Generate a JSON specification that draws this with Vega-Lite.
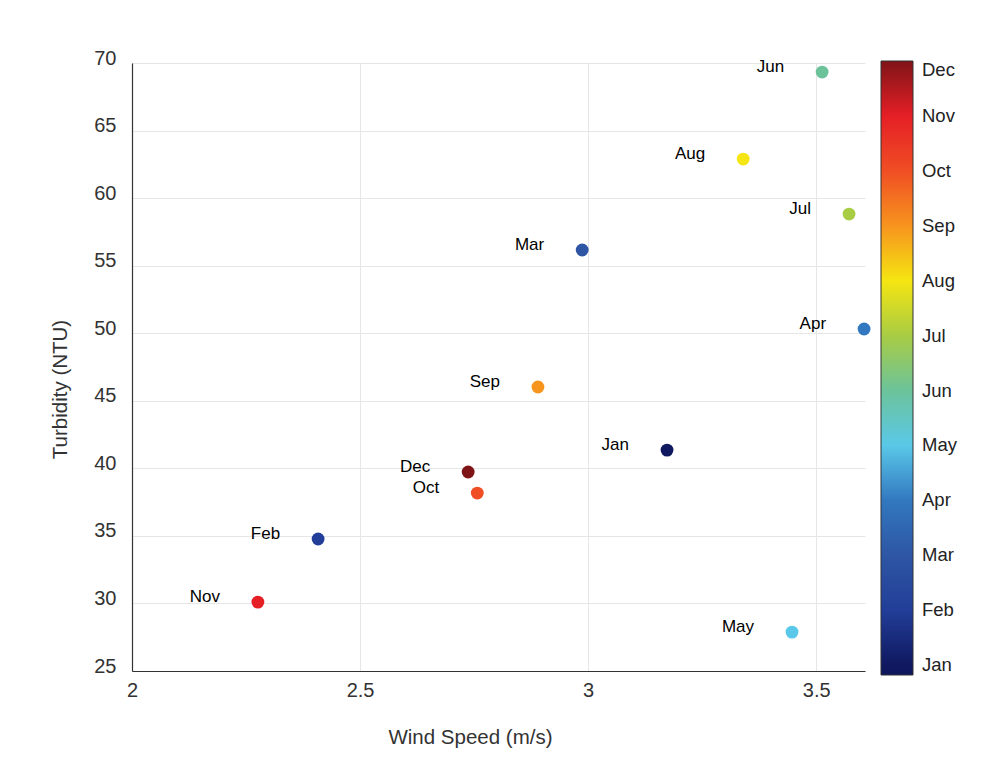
{
  "$schema": "https://vega.github.io/schema/vega-lite/v6.json",
  "width": 733,
  "height": 608,
  "autosize": {"type": "none"},
  "padding": {"left": 132, "top": 63, "right": 133, "bottom": 111},
  "background": "white",
  "config": {
    "font": "Liberation Sans",
    "view": {"stroke": null},
    "axis": {
      "labelFont": "Liberation Sans",
      "titleFont": "Liberation Sans",
      "labelFontSize": 20,
      "titleFontSize": 20.5,
      "labelColor": "#333333",
      "titleColor": "#333333",
      "titleFontWeight": "normal",
      "domainColor": "#333333",
      "gridColor": "#e6e6e6",
      "ticks": false,
      "labelFlush": false
    }
  },
  "data": {
    "values": [
      {"month": "Jan", "m": 1, "wind": 3.173, "turb": 41.35},
      {"month": "Feb", "m": 2, "wind": 2.408, "turb": 34.77},
      {"month": "Mar", "m": 3, "wind": 2.987, "turb": 56.16},
      {"month": "Apr", "m": 4, "wind": 3.605, "turb": 50.31},
      {"month": "May", "m": 5, "wind": 3.447, "turb": 27.88},
      {"month": "Jun", "m": 6, "wind": 3.513, "turb": 69.33},
      {"month": "Jul", "m": 7, "wind": 3.572, "turb": 58.82},
      {"month": "Aug", "m": 8, "wind": 3.340, "turb": 62.89},
      {"month": "Sep", "m": 9, "wind": 2.890, "turb": 46.02},
      {"month": "Oct", "m": 10, "wind": 2.757, "turb": 38.17},
      {"month": "Nov", "m": 11, "wind": 2.276, "turb": 30.10},
      {"month": "Dec", "m": 12, "wind": 2.737, "turb": 39.73}
    ]
  },
  "encoding": {
    "x": {
      "field": "wind", "type": "quantitative",
      "scale": {"domain": [2, 3.607], "nice": false, "zero": false},
      "axis": {"title": "Wind Speed (m/s)", "values": [2, 2.5, 3, 3.5], "format": "~g", "labelPadding": 9, "titlePadding": 27, "titleX": 338, "domainWidth": 1.2}
    },
    "y": {
      "field": "turb", "type": "quantitative",
      "scale": {"domain": [25, 70], "nice": false, "zero": false},
      "axis": {"title": "Turbidity (NTU)", "values": [25, 30, 35, 40, 45, 50, 55, 60, 65, 70], "labelPadding": 16, "labelOffset": -5, "titlePadding": 23, "titleY": 326, "domainWidth": 1.2}
    }
  },
  "layer": [
    {
      "mark": {"type": "circle", "size": 165, "opacity": 1},
      "encoding": {
        "color": {
          "field": "m", "type": "quantitative",
          "scale": {
            "type": "linear",
            "domain": [0.82, 1, 2, 3, 4, 4.5, 5, 5.5, 6, 6.5, 7, 8, 8.5, 9, 9.5, 10, 11, 11.5, 12],
            "range": ["#0e165c", "#101860", "#223e98", "#2e56a4", "#3278c0", "#2bb6e8", "#5ac8e8", "#6ecbc4", "#6cc39a", "#8fc675", "#a8cc44", "#f5e512", "#fcc010", "#f7941e", "#f36b22", "#f04e24", "#e51f26", "#b81c20", "#7f1417"],
            "interpolate": "rgb"
          },
          "legend": {
            "title": null,
            "orient": "none",
            "legendX": 749,
            "legendY": -2,
            "direction": "vertical",
            "gradientLength": 614,
            "gradientThickness": 32,
            "gradientStrokeColor": "#333333",
            "gradientStrokeWidth": 1,
            "values": [1, 2, 3, 4, 5, 6, 7, 8, 9, 10, 11, 12],
            "labelExpr": "['','Jan','Feb','Mar','Apr','May','Jun','Jul','Aug','Sep','Oct','Nov','Dec'][datum.value]",
            "labelFont": "Liberation Sans",
            "labelFontSize": 18.5,
            "labelColor": "#222222",
            "labelOffset": 9,
            "labelOverlap": false
          }
        }
      }
    },
    {
      "mark": {"type": "text", "align": "right", "baseline": "middle", "dx": -38, "dy": -5, "fontSize": 17, "font": "Liberation Sans", "color": "#000000"},
      "encoding": {"text": {"field": "month"}}
    }
  ]
}
